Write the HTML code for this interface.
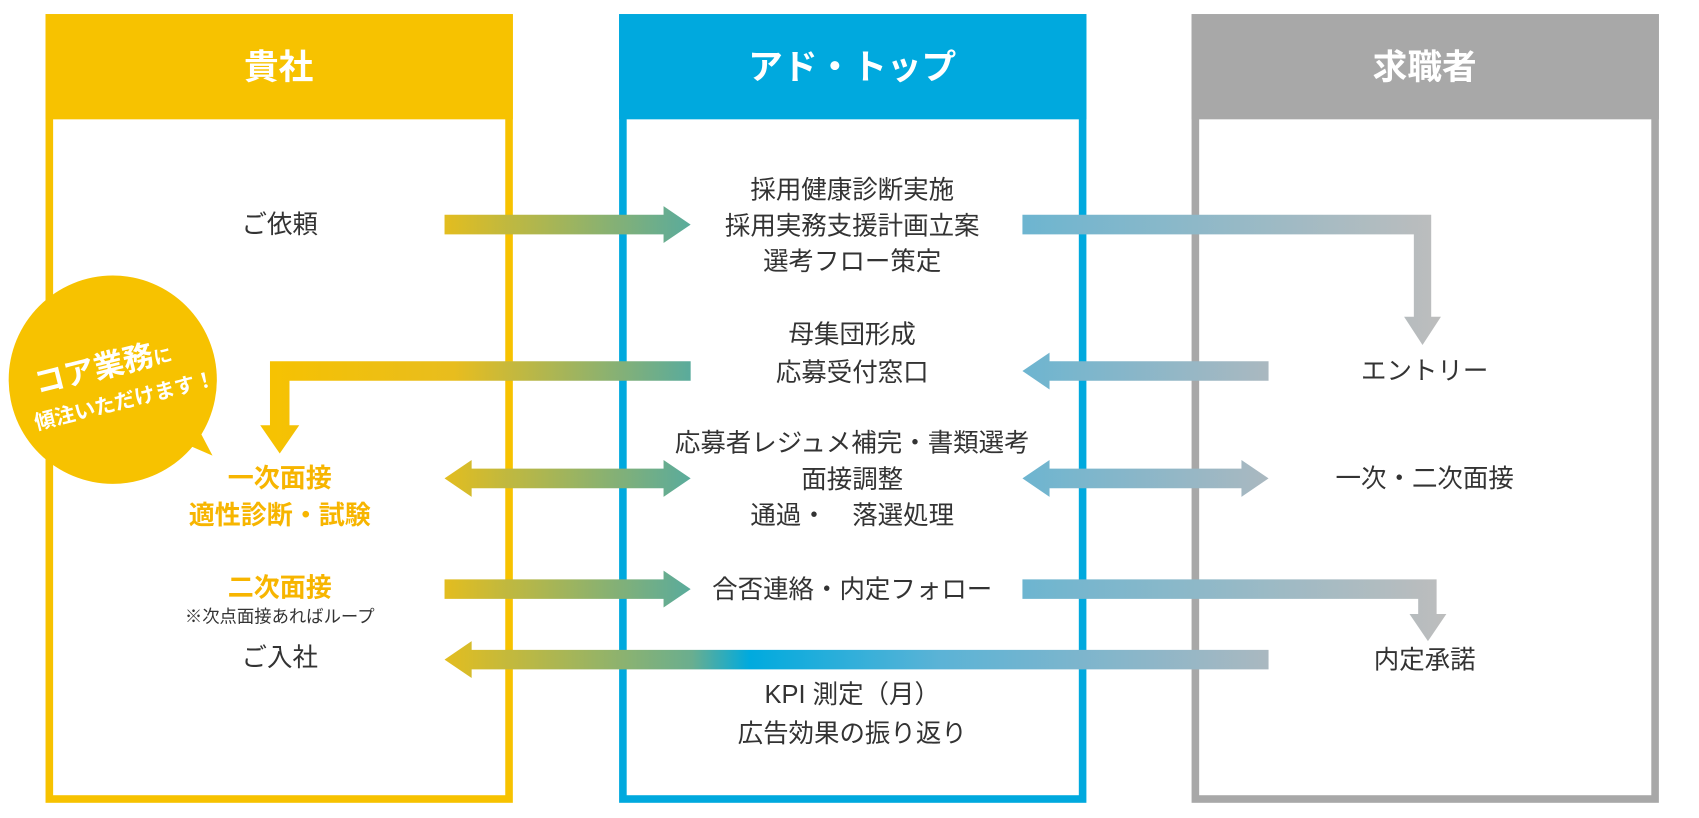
<!DOCTYPE html>
<html><head><meta charset="utf-8"><style>
html,body{margin:0;padding:0;background:#fff;}
svg{display:block;}
text{font-family:"Liberation Sans","Noto Sans CJK JP",sans-serif;}
</style></head><body>
<svg width="1699" height="818" viewBox="0 0 1567 754" preserveAspectRatio="none" xmlns="http://www.w3.org/2000/svg">
<defs>
<linearGradient id="yt" x1="0" x2="1"><stop offset="0" stop-color="#e3bd1f"/><stop offset="1" stop-color="#5aab9c"/></linearGradient>
<linearGradient id="ty" x1="0" x2="1"><stop offset="0" stop-color="#f7c200"/><stop offset="0.45" stop-color="#e8bd1e"/><stop offset="1" stop-color="#5aab9c"/></linearGradient>
<linearGradient id="bg" x1="0" x2="1"><stop offset="0" stop-color="#6db5d0"/><stop offset="1" stop-color="#bdbdbd"/></linearGradient>
<linearGradient id="bg2" x1="0" x2="1"><stop offset="0" stop-color="#6db5d0"/><stop offset="1" stop-color="#aab8c0"/></linearGradient>
<linearGradient id="long" x1="0" x2="1"><stop offset="0" stop-color="#e3bd1f"/><stop offset="0.3" stop-color="#6aae8f"/><stop offset="0.37" stop-color="#00aade"/><stop offset="0.6" stop-color="#5bb3d6"/><stop offset="1" stop-color="#aab8c0"/></linearGradient>
</defs>
<rect x="45.5" y="16.5" width="424" height="720" fill="none" stroke="#f7c200" stroke-width="7"/>
<rect x="42" y="13" width="431" height="97" fill="#f7c200"/>
<rect x="574.5" y="16.5" width="424" height="720" fill="none" stroke="#00a9de" stroke-width="7"/>
<rect x="571" y="13" width="431" height="97" fill="#00a9de"/>
<rect x="1102.5" y="16.5" width="424" height="720" fill="none" stroke="#a8a8a8" stroke-width="7"/>
<rect x="1099" y="13" width="431" height="97" fill="#a8a8a8"/>
<g fill="#fff" font-size="32" font-weight="bold" text-anchor="middle">
<text x="257" y="73">貴社</text>
<text x="786" y="73">アド・トップ</text>
<text x="1314" y="73">求職者</text>
</g>
<polygon points="410,198 612,198 612,190 637,207 612,224 612,216 410,216" fill="url(#yt)"/>
<path d="M943,198 H1320 V292 H1329 L1312,318 L1295,292 H1304 V216 H943 Z" fill="url(#bg)"/>
<polygon points="1170,333 968,333 968,325 943,342 968,359 968,351 1170,351" fill="url(#bg2)"/>
<path d="M637,333 H249 V392 H240 L258,418 L276,392 H267 V351 H637 Z" fill="url(#ty)"/>
<polygon points="410,441 435,424 435,432 612,432 612,424 637,441 612,458 612,450 435,450 435,458" fill="url(#yt)"/>
<polygon points="943,441 968,424 968,432 1145,432 1145,424 1170,441 1145,458 1145,450 968,450 968,458" fill="url(#bg2)"/>
<polygon points="410,534 612,534 612,526 637,543 612,560 612,552 410,552" fill="url(#yt)"/>
<path d="M943,534 H1325 V566 H1334 L1317,591 L1300,566 H1308 V552 H943 Z" fill="url(#bg)"/>
<polygon points="1170,599 435,599 435,591 410,608 435,625 435,617 1170,617" fill="url(#long)"/>
<circle cx="104" cy="350" r="96" fill="#f7c200"/>
<polygon points="150,400 196,420 175,380" fill="#f7c200"/>
<g transform="rotate(-14 104 350)" fill="#fff" text-anchor="middle">
<text x="98" y="346" font-size="28" font-weight="bold">コア業務<tspan font-size="17">に</tspan></text>
<text x="110" y="378" font-size="19" font-weight="bold">傾注いただけます！</text>
</g>
<g fill="#333" font-size="23.5" text-anchor="middle">
<text x="258" y="215">ご依頼</text>
<text x="786" y="183">採用健康診断実施</text>
<text x="786" y="216">採用実務支援計画立案</text>
<text x="786" y="249">選考フロー策定</text>
<text x="786" y="316">母集団形成</text>
<text x="786" y="351">応募受付窓口</text>
<text x="786" y="416">応募者レジュメ補完・書類選考</text>
<text x="786" y="450">面接調整</text>
<text x="786" y="483">通過・　落選処理</text>
<text x="786" y="551">合否連絡・内定フォロー</text>
<text x="786" y="648">KPI 測定（月）</text>
<text x="786" y="684">広告効果の振り返り</text>
<text x="1314" y="350">エントリー</text>
<text x="1314" y="449">一次・二次面接</text>
<text x="1314" y="616">内定承諾</text>
<text x="258" y="614">ご入社</text>
<text x="258" y="574" font-size="16">※次点面接あればループ</text>
</g>
<g fill="#f7b500" font-size="24" font-weight="bold" text-anchor="middle">
<text x="258" y="449">一次面接</text>
<text x="258" y="483">適性診断・試験</text>
<text x="258" y="550">二次面接</text>
</g>
</svg>
</body></html>
